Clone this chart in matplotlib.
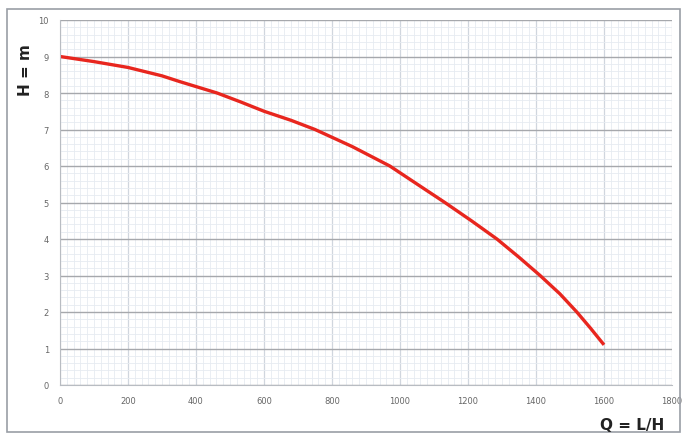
import matplotlib.pyplot as plt
from matplotlib.patches import Rectangle
from matplotlib.ticker import MultipleLocator

# debit / hauteur
q_lh = [0, 100, 200, 300, 353, 462, 530, 600, 680, 750, 860, 970, 1059,
        1132, 1210, 1285, 1350, 1412, 1470, 1520, 1560, 1600]
h_m = [9.0, 8.86, 8.7, 8.47, 8.31, 8.0, 7.76, 7.5, 7.25, 7.0, 6.53, 6.0, 5.45,
       5.0, 4.5, 4.0, 3.5, 3.0, 2.5, 2.0, 1.56, 1.1]

x_ticks = [0, 200, 400, 600, 800, 1000, 1200, 1400, 1600, 1800]
y_ticks = [0, 1, 2, 3, 4, 5, 6, 7, 8, 9, 10]

fig = plt.figure(figsize=(6.84, 4.35), dpi=100)
ax = fig.add_axes([60 / 684, 1 - 386 / 435, 612 / 684, 365 / 435])

# cadre exterieur
fig.patches.append(Rectangle((7 / 684, 1 - 433 / 435), 673 / 684, 423 / 435,
                             transform=fig.transFigure, fill=False,
                             edgecolor="#9a9ea6", linewidth=1.2))

ax.plot(q_lh, h_m, color="#e8261e", linewidth=2.4, solid_capstyle="butt",
        solid_joinstyle="round")

ax.set_xlim(0, 1800)
ax.set_ylim(0, 10)
ax.set_xticks(x_ticks)
ax.set_yticks(y_ticks)
ax.xaxis.set_minor_locator(MultipleLocator(20))
ax.yaxis.set_minor_locator(MultipleLocator(0.2))

ax.grid(which="minor", color="#e6ebf1", linewidth=0.6)
ax.grid(which="major", axis="y", color="#a6a8ac", linewidth=1.0)
ax.grid(which="major", axis="x", color="#d0d6de", linewidth=0.9)
ax.set_axisbelow(True)

for s in ["top", "right"]:
    ax.spines[s].set_visible(False)
for s in ["left", "bottom"]:
    ax.spines[s].set_color("#b8bcc2")

ax.tick_params(which="both", length=0)
ax.tick_params(which="major", labelsize=6, labelcolor="#666666", pad=8)

fig.text(25 / 684, 1 - 70 / 435, "H = m", rotation=90, ha="center", va="center",
         fontsize=11, fontweight="bold", color="#222222")
fig.text(632 / 684, 1 - 426 / 435, "Q = L/H", ha="center", va="center",
         fontsize=11, fontweight="bold", color="#222222")

plt.savefig("out.png", dpi=100)
